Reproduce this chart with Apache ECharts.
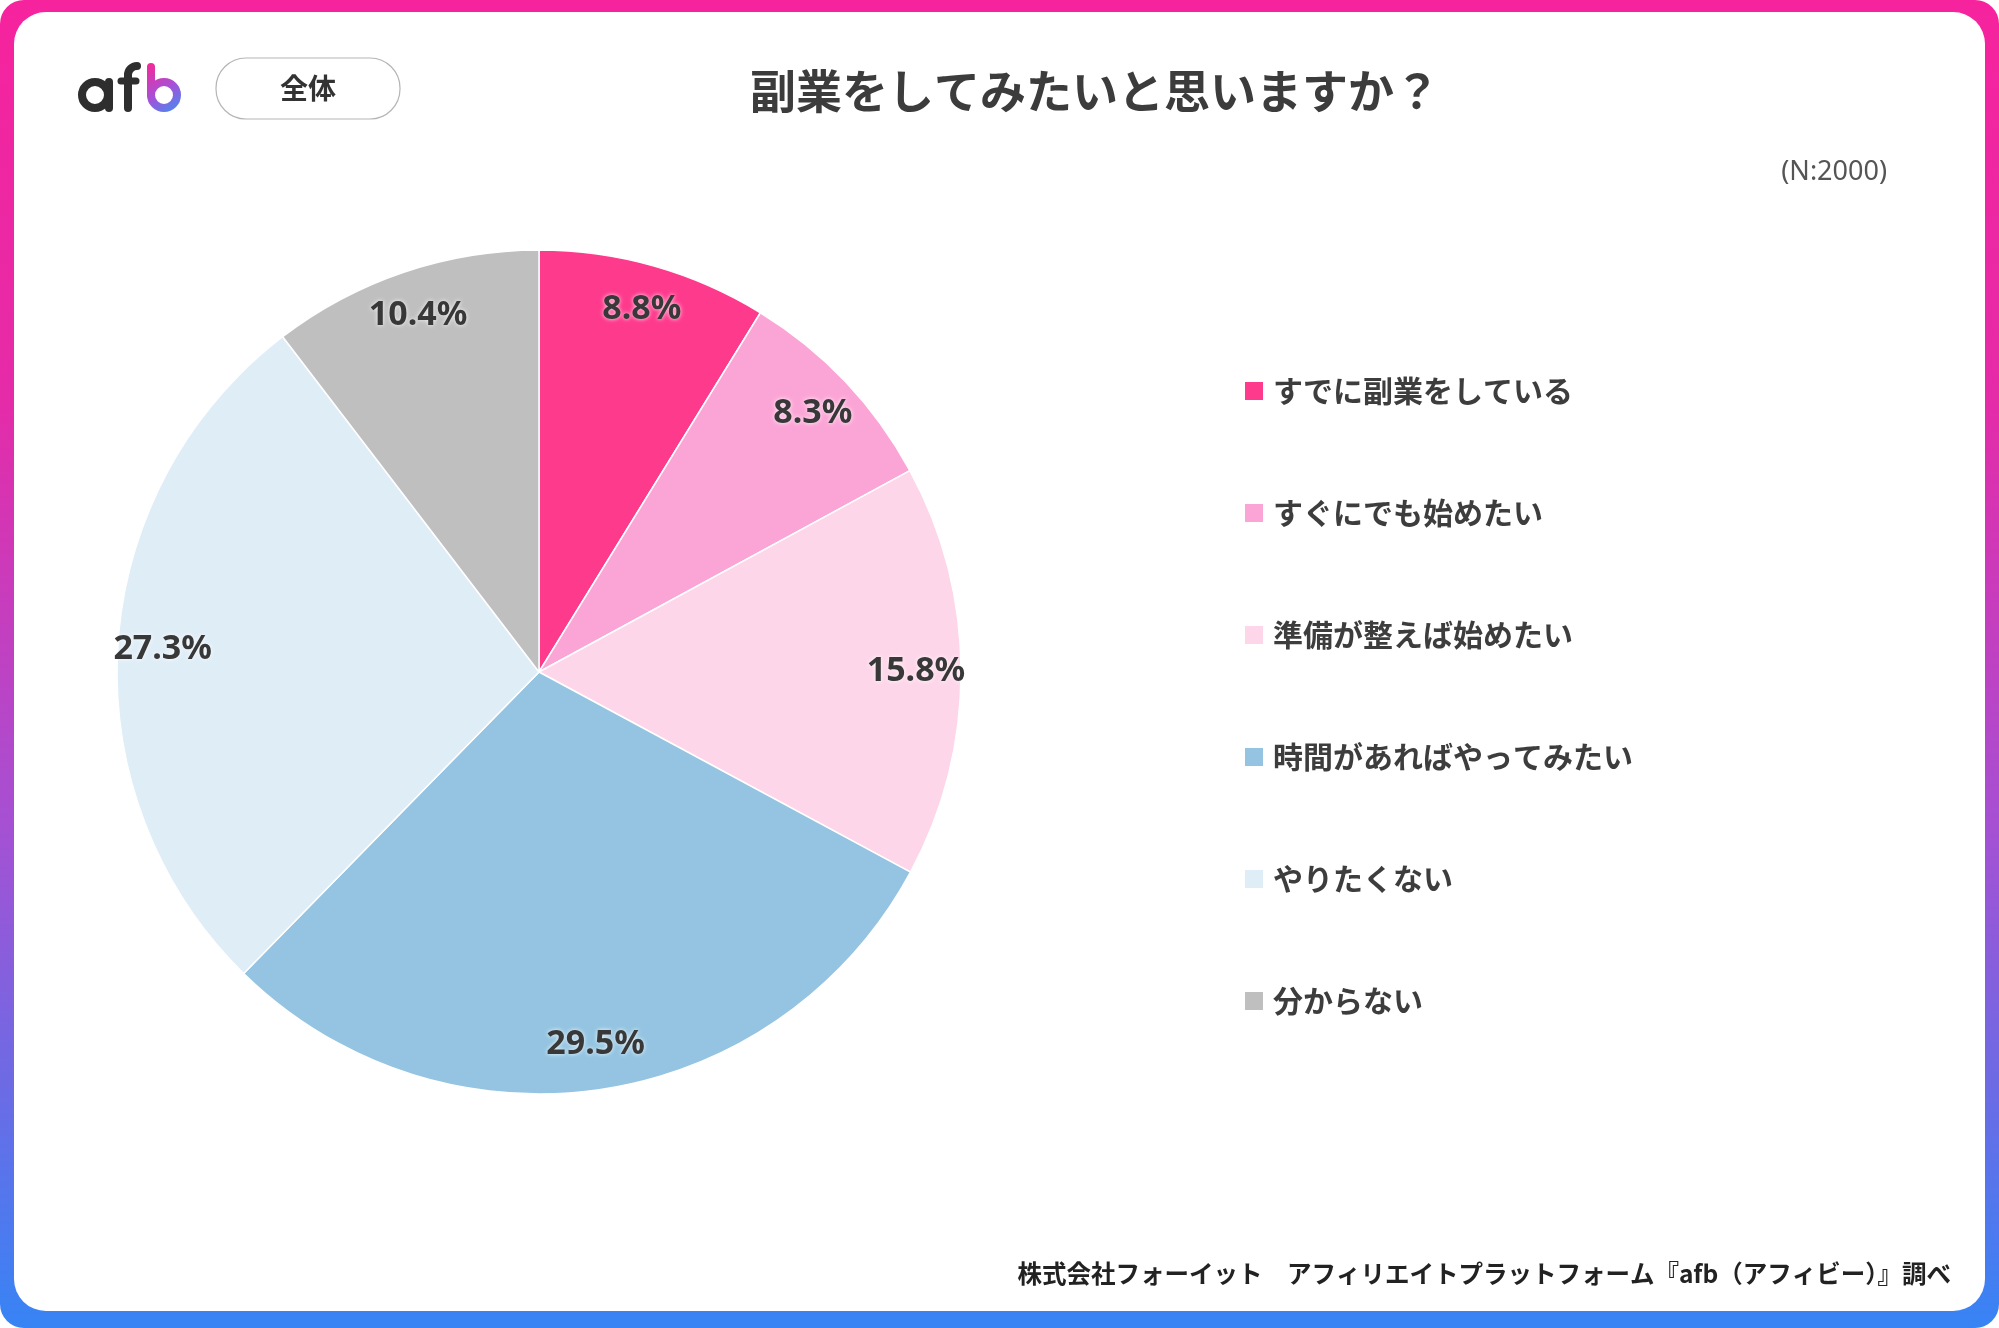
<!DOCTYPE html>
<html>
<head>
<meta charset="utf-8">
<script src="https://cdn.jsdelivr.net/npm/echarts@6/dist/echarts.min.js"></script>
<style>
  html, body { margin: 0; padding: 0; background: #fff; }
  #chart { width: 1999px; height: 1328px; }
</style>
</head>
<body>
<div id="chart"></div>
<script>
// 回答カテゴリと割合（%）
const categories = [
  'すでに副業をしている',
  'すぐにでも始めたい',
  '準備が整えば始めたい',
  '時間があればやってみたい',
  'やりたくない',
  '分からない'
];
const shares = [8.8, 8.3, 15.8, 29.5, 27.3, 10.4];
const sliceColors = ['#fe3a8c', '#fba5d6', '#fdd6e9', '#94c4e1', '#dfedf7', '#bfbfbf'];

const titleText = '副業をしてみたいと思いますか？';
const sampleText = '(N:2000)';
const groupText = '全体';
const sourceText = '株式会社フォーイット　アフィリエイトプラットフォーム『afb（アフィビー）』調べ';

const JP = '"Noto Sans CJK JP", "Noto Sans", sans-serif';

const chart = echarts.init(document.getElementById('chart'), null, { renderer: 'canvas' });

const pieData = categories.map((name, i) => ({
  name,
  value: shares[i],
  itemStyle: { color: sliceColors[i] }
}));

// b のグラデーション
const logoGrad = {
  type: 'linear', global: true,
  x: 150, y: 65, x2: 180, y2: 112,
  colorStops: [
    { offset: 0, color: '#ee2c9c' },
    { offset: 0.5, color: '#a94fd6' },
    { offset: 1, color: '#3f8ff3' }
  ]
};

chart.setOption({
  backgroundColor: '#fff',
  animation: false,
  title: {
    text: titleText,
    left: 1090,
    top: 61,
    textAlign: 'center',
    textStyle: {
      fontFamily: JP,
      fontSize: 46,
      fontWeight: 'bold',
      color: '#3c3c3c',
      lineHeight: 50
    }
  },
  legend: {
    orient: 'vertical',
    left: 1240,
    top: 371,
    itemWidth: 18,
    itemHeight: 18,
    itemGap: 92,
    icon: 'rect',
    selectedMode: false,
    data: categories,
    itemStyle: { borderWidth: 0 },
    textStyle: {
      fontFamily: JP,
      fontSize: 30,
      fontWeight: 'bold',
      color: '#3d3d3d',
      lineHeight: 30,
      padding: [0, 0, 0, 5]
    }
  },
  graphic: {
    elements: [
      // 枠（グラデーション）
      {
        type: 'rect', z: -10, silent: true,
        shape: { x: 0, y: 0, width: 1999, height: 1328, r: 24 },
        style: {
          fill: {
            type: 'linear', x: 0, y: 0, x2: 0, y2: 1,
            colorStops: [
              { offset: 0, color: '#f6239d' },
              { offset: 0.3, color: '#e52ba8' },
              { offset: 0.62, color: '#a650d3' },
              { offset: 1, color: '#3784f5' }
            ]
          }
        }
      },
      {
        type: 'rect', z: -9, silent: true,
        shape: { x: 14, y: 12, width: 1971, height: 1299, r: 32 },
        style: { fill: '#fff' }
      },
      // ロゴ afb
      { type: 'circle', silent: true, shape: { cx: 95, cy: 95, r: 13 }, style: { fill: 'none', stroke: '#2e2e2e', lineWidth: 8 } },
      { type: 'line', silent: true, shape: { x1: 109, y1: 82, x2: 109, y2: 108 }, style: { stroke: '#2e2e2e', lineWidth: 8, lineCap: 'round' } },
      { type: 'line', silent: true, shape: { x1: 128, y1: 75, x2: 128, y2: 108 }, style: { stroke: '#2e2e2e', lineWidth: 8, lineCap: 'round' } },
      { type: 'arc', silent: true, shape: { cx: 137, cy: 75, r: 9, startAngle: Math.PI, endAngle: Math.PI * 1.5, clockwise: true }, style: { fill: 'none', stroke: '#2e2e2e', lineWidth: 8, lineCap: 'round' } },
      { type: 'line', silent: true, shape: { x1: 121, y1: 81, x2: 136, y2: 81 }, style: { stroke: '#2e2e2e', lineWidth: 7, lineCap: 'round' } },
      { type: 'circle', silent: true, shape: { cx: 164, cy: 95, r: 13 }, style: { fill: 'none', stroke: logoGrad, lineWidth: 8 } },
      { type: 'line', silent: true, shape: { x1: 151, y1: 67, x2: 151, y2: 95 }, style: { stroke: logoGrad, lineWidth: 8, lineCap: 'round' } },
      // 全体バッジ
      {
        type: 'rect', silent: true,
        shape: { x: 216, y: 58, width: 184, height: 61, r: 30 },
        style: { fill: '#fff', stroke: '#b5b5b5', lineWidth: 1.2 }
      },
      {
        type: 'text', silent: true,
        style: { x: 308, y: 88, text: groupText, align: 'center', verticalAlign: 'middle', font: 'bold 28px ' + JP, fill: '#333' }
      },
      {
        type: 'text', silent: true,
        style: { x: 1887, y: 172, text: sampleText, align: 'right', verticalAlign: 'middle', font: '27px "Noto Sans", sans-serif', fill: '#555' }
      },
      {
        type: 'text', silent: true,
        style: { x: 1951, y: 1274, text: sourceText, align: 'right', verticalAlign: 'middle', font: 'bold 24.5px ' + JP, fill: '#222' }
      }
    ]
  },
  series: [
    {
      name: '割合',
      type: 'pie',
      center: [539, 672],
      radius: 422,
      startAngle: 90,
      clockwise: true,
      silent: true,
      label: { show: false },
      labelLine: { show: false },
      itemStyle: { borderColor: '#fff', borderWidth: 1.5 },
      emphasis: { disabled: true },
      data: pieData
    },
    {
      // ラベル用の透明リング（外周寄りに数値を置く）
      name: 'ラベル',
      type: 'pie',
      center: [539, 672],
      radius: [326, 422],
      startAngle: 90,
      clockwise: true,
      silent: true,
      z: 5,
      itemStyle: { color: 'rgba(0,0,0,0)', borderWidth: 0 },
      emphasis: { disabled: true },
      labelLine: { show: false },
      label: {
        show: true,
        position: 'inside',
        formatter: p => p.value.toFixed(1) + '%',
        fontFamily: '"Noto Sans", sans-serif',
        fontSize: 34,
        fontWeight: 'bold',
        color: '#383838',
        textShadowColor: 'rgba(255,255,255,0.9)',
        textShadowBlur: 4
      },
      data: categories.map((name, i) => ({ name, value: shares[i] }))
    }
  ]
});

window.addEventListener('resize', () => chart.resize());
</script>
</body>
</html>
